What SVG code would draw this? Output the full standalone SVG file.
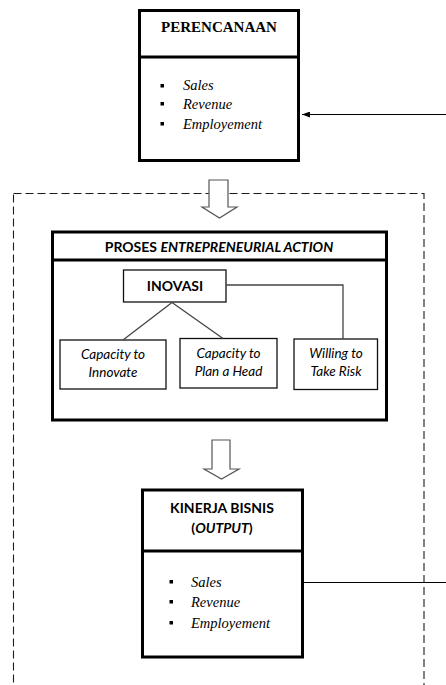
<svg xmlns="http://www.w3.org/2000/svg" width="446" height="685" viewBox="0 0 446 685">
<style>
.bg{fill:#fff}
.thick{fill:#fff;stroke:#000;stroke-width:3}
.div{stroke:#000;stroke-width:3}
.thin{fill:#fff;stroke:#111;stroke-width:1.3}
.conn{fill:none;stroke:#444;stroke-width:1.3}
.line{fill:none;stroke:#000;stroke-width:1.2}
.dash{fill:none;stroke:#1a1a1a;stroke-width:1.1;stroke-dasharray:8,4}
.hollow{fill:#fff;stroke:#555;stroke-width:1.2}
.tt{font-family:"Liberation Serif","Times New Roman",serif;font-weight:bold;font-size:15px;fill:#000}
.ti{font-family:"Liberation Serif","Times New Roman",serif;font-style:italic;font-size:14.5px;fill:#000}
.cb{font-family:Lato,"Liberation Sans",sans-serif;font-weight:bold;font-size:14px;fill:#000}
.ci{font-family:Lato,"Liberation Sans",sans-serif;font-style:italic;font-size:13.5px;fill:#000}
.bul{fill:#000}
</style>
<defs>
<marker id="ah" markerWidth="8" markerHeight="6" refX="8" refY="3" orient="auto" markerUnits="userSpaceOnUse">
<path d="M0,0 L8,3 L0,6 z" fill="#000"/>
</marker>
</defs>
<rect class="bg" x="0" y="0" width="446" height="685"/>

<rect class="dash" x="13.5" y="193.5" width="410.5" height="500"/>

<g id="perencanaan">
<rect class="thick" x="139.5" y="10.5" width="159" height="150"/>
<line class="div" x1="139.5" y1="57" x2="298.5" y2="57"/>
<text class="tt" x="219" y="32" text-anchor="middle">PERENCANAAN</text>
<rect class="bul" x="160.5" y="84" width="3.5" height="3.5"/>
<rect class="bul" x="160.5" y="102" width="3.5" height="3.5"/>
<rect class="bul" x="160.5" y="122" width="3.5" height="3.5"/>
<text class="ti" x="183" y="90">Sales</text>
<text class="ti" x="183" y="108.5">Revenue</text>
<text class="ti" x="183" y="128.5">Employement</text>
</g>

<g id="proses">
<rect class="thick" x="52.5" y="232" width="334" height="188"/>
<line class="div" x1="52.5" y1="260" x2="386.5" y2="260"/>
<text x="219" y="252" text-anchor="middle" class="cb">PROSES <tspan font-style="italic">ENTREPRENEURIAL ACTION</tspan></text>
</g>

<g id="inovasi">
<rect class="thin" x="123.5" y="270" width="102.5" height="32"/>
<text class="cb" x="175" y="291" text-anchor="middle">INOVASI</text>
</g>

<g id="cap-innovate">
<rect class="thin" x="60" y="340" width="106" height="49"/>
<text class="ci" x="113" y="359" text-anchor="middle">Capacity to</text>
<text class="ci" x="113" y="377" text-anchor="middle">Innovate</text>
</g>

<g id="cap-plan">
<rect class="thin" x="180" y="338.5" width="97" height="49.5"/>
<text class="ci" x="228.5" y="358" text-anchor="middle">Capacity to</text>
<text class="ci" x="228.5" y="376" text-anchor="middle">Plan a Head</text>
</g>

<g id="willing">
<rect class="thin" x="294" y="339" width="83.5" height="50.5"/>
<text class="ci" x="336" y="358" text-anchor="middle">Willing to</text>
<text class="ci" x="336" y="376" text-anchor="middle">Take Risk</text>
</g>

<g id="kinerja">
<rect class="thick" x="142.5" y="490" width="160" height="167"/>
<line class="div" x1="142.5" y1="551" x2="302.5" y2="551"/>
<text class="cb" x="222" y="512.5" text-anchor="middle">KINERJA BISNIS</text>
<text class="cb" x="222" y="532.5" text-anchor="middle">(<tspan font-style="italic">OUTPUT</tspan>)</text>
<rect class="bul" x="169.5" y="580" width="3.5" height="3.5"/>
<rect class="bul" x="169.5" y="600" width="3.5" height="3.5"/>
<rect class="bul" x="169.5" y="621" width="3.5" height="3.5"/>
<text class="ti" x="191" y="587">Sales</text>
<text class="ti" x="191" y="607">Revenue</text>
<text class="ti" x="191" y="628">Employement</text>
</g>

<g id="connectors">
<polygon class="hollow" points="209,180 228,180 228,207 237,207 219.5,218 202,207 209,207"/>
<polygon class="hollow" points="212,440 230,440 230,469 239,469 221.5,479 204,469 212,469"/>
<path class="conn" d="M172,302.5 L123,340"/>
<path class="conn" d="M172,302.5 L223,338.5"/>
<path class="conn" d="M226,285 L343,285 L343,339"/>
<line class="line" x1="446" y1="114.5" x2="302" y2="114.5" marker-end="url(#ah)"/>
<line class="line" x1="302.5" y1="582.5" x2="446" y2="582.5"/>
</g>
</svg>
